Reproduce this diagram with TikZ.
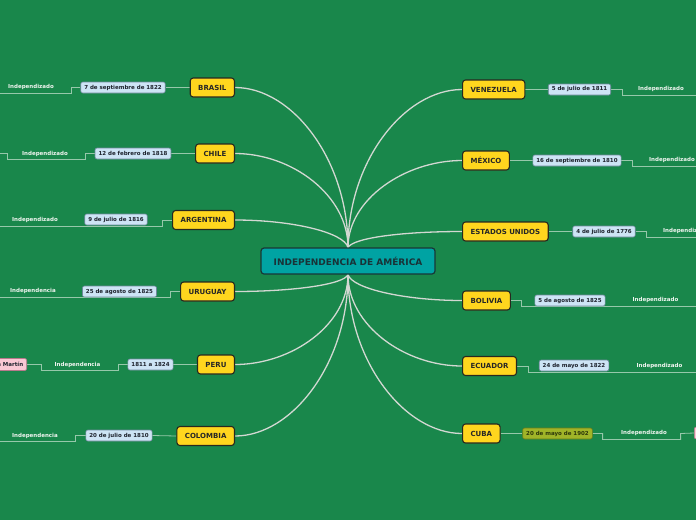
\documentclass[tikz,border=0pt]{standalone}
\usepackage{fontspec}
\setmainfont{DejaVu Sans}
\definecolor{bgc}{RGB}{25,135,75}
\definecolor{cyellow}{RGB}{255,214,30}
\definecolor{cborder}{RGB}{40,40,30}
\definecolor{tealc}{RGB}{0,163,163}
\definecolor{tealb}{RGB}{25,55,55}
\definecolor{tealt}{RGB}{25,50,55}
\definecolor{dfill}{RGB}{205,228,245}
\definecolor{dborder}{RGB}{110,135,155}
\definecolor{dtext}{RGB}{30,35,45}
\definecolor{ofill}{RGB}{160,180,40}
\definecolor{oborder}{RGB}{105,125,25}
\definecolor{otext}{RGB}{45,55,10}
\definecolor{pfill}{RGB}{250,200,212}
\definecolor{pborder}{RGB}{185,120,140}
\definecolor{mline}{RGB}{210,216,210}
\definecolor{bline}{RGB}{150,200,170}
\definecolor{itext}{RGB}{240,245,240}
\pgfdeclarelayer{bgfill}
\pgfdeclarelayer{lines}
\pgfsetlayers{bgfill,lines,main}
\begin{document}
\begin{tikzpicture}[x=1pt,y=-1pt,
  country/.style={draw=cborder, fill=cyellow, rounded corners=3pt, line width=1.1pt,
    minimum height=19pt, inner xsep=8pt, inner ysep=0pt,
    font=\fontsize{7}{8}\selectfont\bfseries, text=black!85},
  centerbox/.style={draw=tealb, fill=tealc, rounded corners=3pt, line width=1.2pt,
    minimum width=174pt, minimum height=26pt, inner sep=0pt,
    font=\fontsize{9}{10}\selectfont\bfseries, text=tealt},
  datebox/.style={draw=dborder, fill=dfill, rounded corners=2pt, line width=0.6pt,
    minimum height=11pt, inner xsep=3.5pt, inner ysep=0pt,
    font=\fontsize{5.5}{6}\selectfont\bfseries, text=dtext},
  olivebox/.style={datebox, draw=oborder, fill=ofill, text=otext},
  pinkbox/.style={datebox, draw=pborder, fill=pfill, minimum height=12pt},
  indep/.style={font=\fontsize{5.5}{6}\selectfont\bfseries, text=itext, inner sep=0pt},
  mainline/.style={draw=mline, line width=1.3pt},
  branch/.style={draw=bline, line width=0.8pt}
]
\useasboundingbox (0,0) rectangle (696,520);
\clip (0,0) rectangle (696,520);
\begin{pgfonlayer}{bgfill}
\fill[bgc] (0,0) rectangle (696,520);
\end{pgfonlayer}

% center
\node[centerbox] (c) at (348,261) {INDEPENDENCIA DE AMÉRICA};

% left countries
\node[country, anchor=east] (brasil) at (235,87.5) {BRASIL};
\node[country, anchor=east] (chile) at (235,153.5) {CHILE};
\node[country, anchor=east] (arg) at (235,220) {ARGENTINA};
\node[country, anchor=east] (uru) at (235,291.5) {URUGUAY};
\node[country, anchor=east] (peru) at (235,364.5) {PERU};
\node[country, anchor=east] (col) at (235,436) {COLOMBIA};
% right countries
\node[country, anchor=west] (ven) at (462,89.5) {VENEZUELA};
\node[country, anchor=west] (mex) at (462,160.5) {MÉXICO};
\node[country, anchor=west] (eeuu) at (462,231.5) {ESTADOS UNIDOS};
\node[country, anchor=west] (bol) at (462,300.5) {BOLIVIA};
\node[country, anchor=west] (ecu) at (462,366) {ECUADOR};
\node[country, anchor=west] (cuba) at (462,433.5) {CUBA};

% dates
\node[datebox] (d1) at (123,87.5) {7 de septiembre de 1822};
\node[datebox] (d2) at (133,153.5) {12 de febrero de 1818};
\node[datebox] (d3) at (116,219.5) {9 de julio de 1816};
\node[datebox] (d4) at (119.5,291.5) {25 de agosto de 1825};
\node[datebox] (d5) at (150.5,364.5) {1811 a 1824};
\node[datebox] (d6) at (119,435.5) {20 de julio de 1810};
\node[datebox] (d7) at (579.5,89.5) {5 de julio de 1811};
\node[datebox] (d8) at (577,160.5) {16 de septiembre de 1810};
\node[datebox] (d9) at (604,231.5) {4 de julio de 1776};
\node[datebox] (d10) at (570,300.5) {5 de agosto de 1825};
\node[datebox] (d11) at (574,365.5) {24 de mayo de 1822};
\node[olivebox] (d12) at (557.5,433.5) {20 de mayo de 1902};

% pink boxes
\node[pinkbox, anchor=east] (sm) at (27,364.5) {San Martín};
\node[pinkbox, anchor=west, minimum width=20pt] (cx) at (694,433) {};

% labels
\node[indep] (t1) at (31,87) {Independizado};
\node[indep] (t2) at (45,153.5) {Independizado};
\node[indep] (t3) at (35,219.5) {Independizado};
\node[indep] (t4) at (33,291) {Independencia};
\node[indep] (t5) at (77.5,364.5) {Independencia};
\node[indep] (t6) at (35,436) {Independencia};
\node[indep] (t7) at (661,89) {Independizado};
\node[indep] (t8) at (672,160) {Independizado};
\node[indep] (t9) at (686,231) {Independizado};
\node[indep] (t10) at (655.5,300) {Independizado};
\node[indep] (t11) at (659.5,366) {Independizado};
\node[indep] (t12) at (644,433) {Independizado};

% free ends
\coordinate (e1) at (0,93);
\coordinate (e2) at (0,153.5);
\coordinate (e3) at (0,226);
\coordinate (e4) at (0,297);
\coordinate (e6) at (0,441);
\coordinate (e7) at (696,95);
\coordinate (e8) at (696,166);
\coordinate (e9) at (696,237);
\coordinate (e10) at (696,306);
\coordinate (e11) at (696,372);

\begin{pgfonlayer}{lines}
% main curves
\draw[mainline] (c.north) .. controls +(0,-88) and +(57,0) .. (brasil.east);
\draw[mainline] (c.north) .. controls +(0,-52) and +(57,0) .. (chile.east);
\draw[mainline] (c.north) .. controls +(-4,-15) and +(57,0) .. (arg.east);
\draw[mainline] (c.north) .. controls +(0,-87) and +(-57,0) .. (ven.west);
\draw[mainline] (c.north) .. controls +(0,-48) and +(-57,0) .. (mex.west);
\draw[mainline] (c.north) .. controls +(6,-10) and +(-57,0) .. (eeuu.west);
\draw[mainline] (c.south) .. controls +(-4,10) and +(57,0) .. (uru.east);
\draw[mainline] (c.south) .. controls +(0,50) and +(57,0) .. (peru.east);
\draw[mainline] (c.south) .. controls +(0,89) and +(57,0) .. (col.east);
\draw[mainline] (c.south) .. controls +(4,14) and +(-57,0) .. (bol.west);
\draw[mainline] (c.south) .. controls +(0,51) and +(-57,0) .. (ecu.west);
\draw[mainline] (c.south) .. controls +(0,87) and +(-57,0) .. (cuba.west);
% branches left
\draw[branch] (brasil.west) -- (d1.east);
\draw[branch] (d1.west) -- ++(-9,0) |- (e1);
\draw[branch] (chile.west) -- (d2.east);
\draw[branch] (d2.west) -- ++(-9,0) -- ++(0,6) -- ++(-78,0) -- ++(0,-6) -- (e2);
\draw[branch] (arg.west) -- ++(-10,0) |- (e3);
\draw[branch] (uru.west) -- ++(-10,0) |- (e4);
\draw[branch] (peru.west) -- (d5.east);
\draw[branch] (d5.west) -- ++(-9,0) -- ++(0,5.5) -- ++(-77,0) -- ++(0,-5.5) -- (sm.east);
\draw[branch] (col.west) -- (d6.east);
\draw[branch] (d6.west) -- ++(-10,0) |- (e6);
% branches right
\draw[branch] (ven.east) -- (d7.west);
\draw[branch] (d7.east) -- ++(11,0) |- (e7);
\draw[branch] (mex.east) -- (d8.west);
\draw[branch] (d8.east) -- ++(11,0) |- (e8);
\draw[branch] (eeuu.east) -- (d9.west);
\draw[branch] (d9.east) -- ++(11,0) |- (e9);
\draw[branch] (bol.east) -- ++(11,0) |- (e10);
\draw[branch] (ecu.east) -- ++(11,0) |- (e11);
\draw[branch] (cuba.east) -- (d12.west);
\draw[branch] (d12.east) -- ++(10,0) -- ++(0,6) -- ++(78,0) -- ++(0,-6) -- (cx.west);
\end{pgfonlayer}
\end{tikzpicture}
\end{document}
